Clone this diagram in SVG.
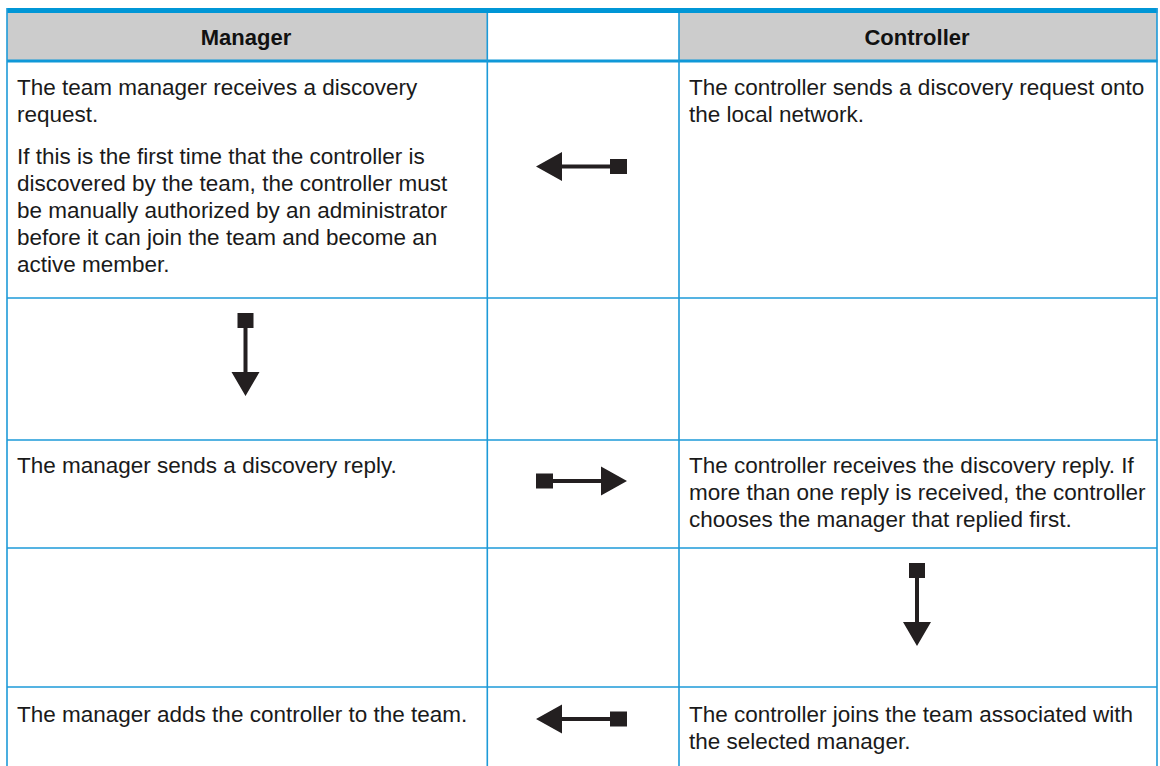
<svg xmlns="http://www.w3.org/2000/svg" width="1160" height="766" viewBox="0 0 1160 766">
<style>
.t{font-family:"Liberation Sans",Arial,sans-serif;font-size:22.5px;fill:#1a1a1a}
.h{font-family:"Liberation Sans",Arial,sans-serif;font-size:22px;font-weight:bold;fill:#111;text-anchor:middle}
.g{stroke:#1d9ad8;stroke-width:1.6;fill:none}
.ar{fill:#231f20}
</style>
<defs>
<path id="arrH" d="M0,0 L26,-14.5 L26,-2 L74,-2 L74,-7.5 L91,-7.5 L91,7.5 L74,7.5 L74,2 L26,2 L26,14.5 Z"/>
<path id="arrV" d="M-8,0 L8,0 L8,15 L2,15 L2,59 L14,59 L0,83 L-14,59 L-2,59 L-2,15 L-8,15 Z"/>
</defs>
<rect width="1160" height="766" fill="#fff"/>
<g id="header">
<rect x="7" y="13" width="480" height="47" fill="#cccccc"/>
<rect x="679" y="13" width="478" height="47" fill="#cccccc"/>
<rect x="7" y="8" width="1150.5" height="5" fill="#0096d6"/>
<rect x="7" y="59.5" width="1150.5" height="3" fill="#0f98d8"/>
<text class="h" x="246" y="45">Manager</text>
<text class="h" x="917" y="45">Controller</text>
</g>
<g id="grid">
<line class="g" x1="7" y1="8" x2="7" y2="766"/>
<line class="g" x1="1157" y1="8" x2="1157" y2="766"/>
<line class="g" x1="487.3" y1="13" x2="487.3" y2="766"/>
<line class="g" x1="679" y1="13" x2="679" y2="766"/>
<line class="g" x1="7" y1="298" x2="1157" y2="298"/>
<line class="g" x1="7" y1="440" x2="1157" y2="440"/>
<line class="g" x1="7" y1="548" x2="1157" y2="548"/>
<line class="g" x1="7" y1="687" x2="1157" y2="687"/>
</g>
<g id="row1-manager">
<text class="t" x="17" y="95">The team manager receives a discovery</text>
<text class="t" x="17" y="122">request.</text>
<text class="t" x="17" y="164">If this is the first time that the controller is</text>
<text class="t" x="17" y="191">discovered by the team, the controller must</text>
<text class="t" x="17" y="218">be manually authorized by an administrator</text>
<text class="t" x="17" y="245">before it can join the team and become an</text>
<text class="t" x="17" y="272">active member.</text>
</g>
<g id="row1-controller">
<text class="t" x="689" y="95">The controller sends a discovery request onto</text>
<text class="t" x="689" y="122">the local network.</text>
</g>
<g id="row3-manager">
<text class="t" x="17" y="473">The manager sends a discovery reply.</text>
</g>
<g id="row3-controller">
<text class="t" x="689" y="473">The controller receives the discovery reply. If</text>
<text class="t" x="689" y="500">more than one reply is received, the controller</text>
<text class="t" x="689" y="527">chooses the manager that replied first.</text>
</g>
<g id="row5-manager">
<text class="t" x="17" y="722">The manager adds the controller to the team.</text>
</g>
<g id="row5-controller">
<text class="t" x="689" y="722">The controller joins the team associated with</text>
<text class="t" x="689" y="749">the selected manager.</text>
</g>
<g id="connectors" class="ar">
<use href="#arrH" transform="translate(536,166.5)"/>
<use href="#arrV" transform="translate(245.5,313)"/>
<use href="#arrH" transform="translate(627,481) scale(-1,1)"/>
<use href="#arrV" transform="translate(917,563)"/>
<use href="#arrH" transform="translate(536,719)"/>
</g>
</svg>
